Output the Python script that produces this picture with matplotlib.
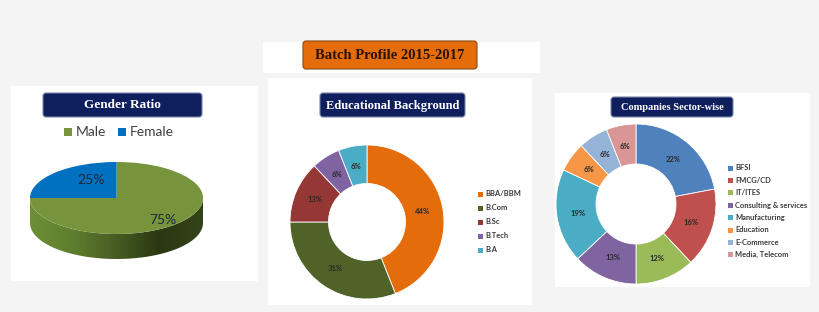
import matplotlib
matplotlib.use("Agg")
import matplotlib.pyplot as plt
from matplotlib.patches import Rectangle, FancyBboxPatch, Polygon
from matplotlib.colors import LinearSegmentedColormap
import numpy as np

W, H = 820, 312

# ---------------- data ----------------
main_title = "Batch Profile 2015-2017"

gender_title = "Gender Ratio"
gender_labels = ["Male", "Female"]
gender_values = [75, 25]
gender_colors = ["#77933C", "#0070C0"]

edu_title = "Educational Background"
edu_labels = ["BBA/BBM", "B.Com", "B.Sc", "B.Tech", "B.A"]
edu_values = [44, 31, 13, 6, 6]
edu_colors = ["#E46C0A", "#4F6228", "#953735", "#8064A2", "#4BACC6"]

sector_title = "Companies Sector-wise"
sector_labels = ["BFSI", "FMCG/CD", "IT/ITES", "Consulting & services",
                 "Manufacturing", "Education", "E-Commerce", "Media, Telecom"]
sector_values = [22, 16, 12, 13, 19, 6, 6, 6]
sector_colors = ["#4F81BD", "#C0504D", "#9BBB59", "#8064A2",
                 "#4BACC6", "#F79646", "#95B3D7", "#D99694"]

# ---------------- figure ----------------
fig = plt.figure(figsize=(W / 100, H / 100), dpi=100)
fig.patch.set_facecolor("#F4F4F4")

bg = fig.add_axes([0, 0, 1, 1])
bg.set_xlim(0, W)
bg.set_ylim(H, 0)
bg.axis("off")

SANS = ["Lato", "DejaVu Sans"]
SERIF = ["Liberation Serif", "DejaVu Serif"]

# white panels
for (x0, y0, x1, y1) in [(11, 86, 258, 281), (263, 42, 540, 73),
                         (268, 78, 532, 305), (555, 93, 810, 287)]:
    bg.add_patch(Rectangle((x0, y0), x1 - x0, y1 - y0, facecolor="white",
                           edgecolor="none", zorder=1))


def title_box(x0, y0, x1, y1, text, fc, ec, tc, size):
    bg.add_patch(FancyBboxPatch((x0, y0), x1 - x0, y1 - y0,
                                boxstyle="round,pad=0,rounding_size=3",
                                facecolor=fc, edgecolor=ec, linewidth=0.8, zorder=3))
    bg.text((x0 + x1) / 2, (y0 + y1) / 2 + 0.5, text, ha="center", va="center",
            color=tc, fontsize=size, fontweight="bold", family=SERIF, zorder=4)


title_box(303, 41, 477, 69, main_title, "#E46C0A", "#8A4A18", "#2B1300", 10.5)
title_box(43, 93, 202, 117, gender_title, "#0F1F5E", "#7A86A8", "white", 9.5)
title_box(320, 93, 465, 117, edu_title, "#0F1F5E", "#7A86A8", "white", 9)
title_box(611, 97, 733, 117, sector_title, "#0F1F5E", "#7A86A8", "white", 7.5)


def px_axes(x0, y0, w, h):
    ax = fig.add_axes([x0 / W, 1 - (y0 + h) / H, w / W, h / H])
    ax.patch.set_alpha(0)
    return ax


# ---------------- gender 3D-like pie ----------------
gx0, gy0, gw, gh = 30, 150, 173, 125
cx_px, cy_px, rx_px, ry_px, thick_px = 116.5, 198, 86.5, 36, 25
axg = px_axes(gx0, gy0, gw, gh)
xl = ((gx0 - cx_px) / rx_px, (gx0 + gw - cx_px) / rx_px)
yl = (-(gy0 + gh - cy_px) / ry_px, (cy_px - gy0) / ry_px)
t = thick_px / ry_px

# side band with gradient
th = np.linspace(np.pi, 2 * np.pi, 200)
lower = np.column_stack([np.cos(th), np.sin(th) - t])
upper = np.column_stack([np.cos(th[::-1]), np.sin(th[::-1])])
side = Polygon(np.vstack([lower, upper]), closed=True, facecolor="none",
               edgecolor="none")
axg.add_patch(side)
cmap = LinearSegmentedColormap.from_list(
    "side", ["#6E8F36", "#5F7E2E", "#465C22", "#2A3812", "#34441A"])
grad = np.linspace(0, 1, 256).reshape(1, -1)
im = axg.imshow(grad, cmap=cmap, extent=(-1, 1, -1 - t, 0.1), aspect="auto",
                zorder=1)
im.set_clip_path(side)

wedges, _ = axg.pie(gender_values, colors=gender_colors, startangle=90,
                    counterclock=False, radius=1,
                    wedgeprops=dict(linewidth=0))
for w_ in wedges:
    w_.set_zorder(2)
axg.set_aspect("auto")
axg.set_xlim(*xl)
axg.set_ylim(*yl)
axg.axis("off")

# percentage labels on top face (perspective-adjusted radial factors)
label_factors = [(0.76, 0.85), (0.42, 0.72)]
ang = 90.0
for v, (fx, fy) in zip(gender_values, label_factors):
    mid = np.deg2rad(ang - v * 3.6 / 2)
    ang -= v * 3.6
    axg.text(fx * np.cos(mid), fy * np.sin(mid), f"{v}%",
             ha="center", va="center", fontsize=10,
             color="#1C2B3A", family=SANS, zorder=5)

# gender legend
lx = [64, 118]
for x, lab, col in zip(lx, gender_labels, gender_colors):
    bg.add_patch(Rectangle((x, 128), 8, 8, facecolor=col, edgecolor="none", zorder=3))
    bg.text(x + 12, 132, lab, ha="left", va="center", fontsize=10,
            color="#404040", family=SANS, zorder=3)


# ---------------- donuts ----------------
def donut(cx, cy, r, values, colors):
    pad = 1.03
    ax = px_axes(cx - r * pad, cy - r * pad, 2 * r * pad, 2 * r * pad)
    ax.pie(values, colors=colors, startangle=90, counterclock=False, radius=1,
           autopct=lambda p: f"{p:.0f}%", pctdistance=0.73,
           wedgeprops=dict(width=0.5, edgecolor="white", linewidth=0.6),
           textprops=dict(fontsize=5.5, fontweight="bold", color="#2A2A2A",
                          family=SANS))
    ax.set_xlim(-pad, pad)
    ax.set_ylim(-pad, pad)
    ax.set_aspect("equal")
    ax.axis("off")
    return ax


donut(367, 222, 77, edu_values, edu_colors)
donut(636, 204, 80, sector_values, sector_colors)


def legend(x, y0, dy, labels, colors):
    for i, (lab, col) in enumerate(zip(labels, colors)):
        y = y0 + i * dy
        bg.add_patch(Rectangle((x, y - 2.5), 5, 5, facecolor=col,
                               edgecolor="none", zorder=3))
        bg.text(x + 7, y, lab, ha="left", va="center", fontsize=5.4,
                fontweight="bold", color="#3A3A3A", family=SANS, zorder=3)


legend(478, 194, 14, edu_labels, edu_colors)
legend(728, 168, 12.4, sector_labels, sector_colors)

fig.savefig("out.png", dpi=100, facecolor=fig.get_facecolor())
